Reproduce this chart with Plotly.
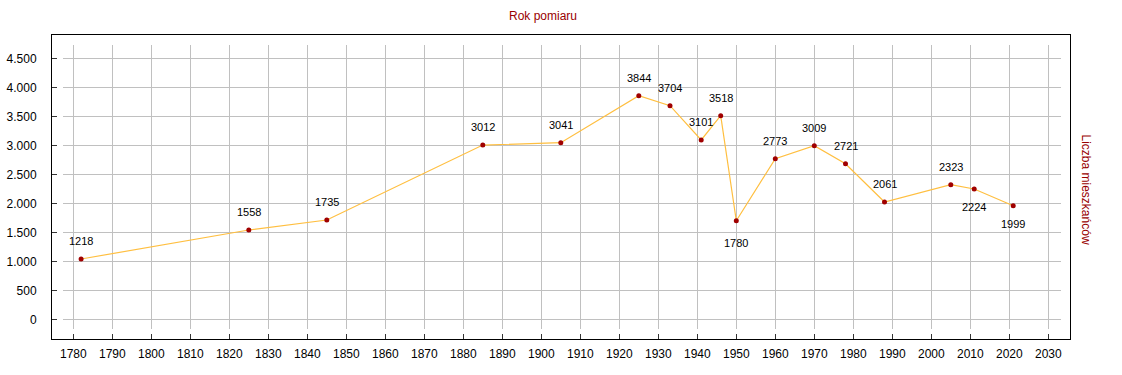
import plotly.graph_objects as go

# ---- data ----
years = [1782, 1825, 1845, 1885, 1905, 1925, 1933, 1941, 1946, 1950,
         1960, 1970, 1978, 1988, 2005, 2011, 2021]
population = [1040, 1540, 1712, 3005, 3045, 3855, 3683, 3092, 3511, 1700,
              2769, 2993, 2683, 2022, 2321, 2247, 1959]
value_labels = ["1218", "1558", "1735", "3012", "3041", "3844", "3704", "3101",
                "3518", "1780", "2773", "3009", "2721", "2061", "2323", "2224", "1999"]
x_title = "Rok pomiaru"
y_title = "Liczba mieszkańców"

# ---- geometry / style ----
W, H = 1122, 375
FL, FR, FT, FB = 52, 1070, 35, 339          # frame (plot area) in px
GL, GR, GT, GB = 63.3, 1061, 45, 329.3      # grid area in px
X0_PX, X_PPY = 73.3, 3.9                    # px of 1780, px per year
Y0_PX, Y_PPU = 319.33, 0.058                # px of 0, px per unit

def px_to_year(px):
    return 1780 + (px - X0_PX) / X_PPY

def px_to_val(px):
    return (Y0_PX - px) / Y_PPU

pw, ph = FR - FL, FB - FT

def paper_x(px):
    return (px - FL) / pw

def paper_y(py):
    return (FB - py) / ph

FONT = "Liberation Sans, Arial, sans-serif"
DARKRED = "#990000"
below = {"1780": -22, "2224": -18, "1999": -18}

fig = go.Figure()

# dummy trace on the frame axes so the subplot exists
fig.add_trace(go.Scatter(x=[], y=[], xaxis="x", yaxis="y", showlegend=False))

fig.add_trace(go.Scatter(
    x=years, y=population, xaxis="x2", yaxis="y2",
    mode="lines+markers",
    line=dict(color="#ffbf40", width=1.2),
    marker=dict(color="#a00000", size=5),
    showlegend=False, hoverinfo="x+y",
))

for xv, yv, lab in zip(years, population, value_labels):
    fig.add_annotation(x=xv, y=yv, xref="x2", yref="y2", text=lab,
                       showarrow=False, yshift=below.get(lab, 18),
                       font=dict(family=FONT, size=11, color="black"))

fig.add_annotation(x=paper_x(543), y=paper_y(16), xref="paper", yref="paper",
                   text=x_title, showarrow=False, xanchor="center", yanchor="middle",
                   font=dict(family=FONT, size=12, color=DARKRED))
fig.add_annotation(x=paper_x(1085.5), y=paper_y(189), xref="paper", yref="paper",
                   text=y_title, textangle=90, showarrow=False,
                   xanchor="center", yanchor="middle",
                   font=dict(family=FONT, size=12, color=DARKRED))

fig.update_layout(
    width=W, height=H,
    margin=dict(l=FL, r=W - FR, t=FT, b=H - FB, pad=0, autoexpand=False),
    paper_bgcolor="white", plot_bgcolor="rgba(0,0,0,0)",
    separators=",.",
    font=dict(family=FONT, size=12, color="black"),
    xaxis=dict(
        domain=[0, 1], anchor="y",
        range=[px_to_year(FL), px_to_year(FR)],
        tickmode="linear", tick0=1780, dtick=10,
        ticks="inside", ticklen=5, tickcolor="#333", tickwidth=1,
        showgrid=False, zeroline=False,
        showline=True, mirror=True, linecolor="black", linewidth=1,
        tickfont=dict(family=FONT, size=12, color="black"),
        ticklabelstandoff=4,
    ),
    yaxis=dict(
        domain=[0, 1], anchor="x",
        range=[px_to_val(FB), px_to_val(FT)],
        tickmode="linear", tick0=0, dtick=500, tickformat=",d",
        ticks="inside", ticklen=5, tickcolor="#333", tickwidth=1,
        showgrid=False, zeroline=False,
        showline=True, mirror=True, linecolor="black", linewidth=1,
        tickfont=dict(family=FONT, size=12, color="black"),
        ticklabelstandoff=12,
    ),
    xaxis2=dict(
        domain=[paper_x(GL), paper_x(GR)], anchor="y2",
        range=[px_to_year(GL), px_to_year(GR)],
        tickmode="linear", tick0=1780, dtick=10,
        showgrid=True, gridcolor="#c0c0c0", gridwidth=1,
        showticklabels=False, ticks="", zeroline=False, showline=False,
    ),
    yaxis2=dict(
        domain=[paper_y(GB), paper_y(GT)], anchor="x2",
        range=[px_to_val(GB), px_to_val(GT)],
        tickmode="linear", tick0=0, dtick=500,
        showgrid=True, gridcolor="#c0c0c0", gridwidth=1,
        showticklabels=False, ticks="", zeroline=False, showline=False,
    ),
)

fig.write_html("out.html",
               config={"displayModeBar": False},
               post_script="document.body.style.margin='0';"
                           "document.body.style.overflow='hidden';")
